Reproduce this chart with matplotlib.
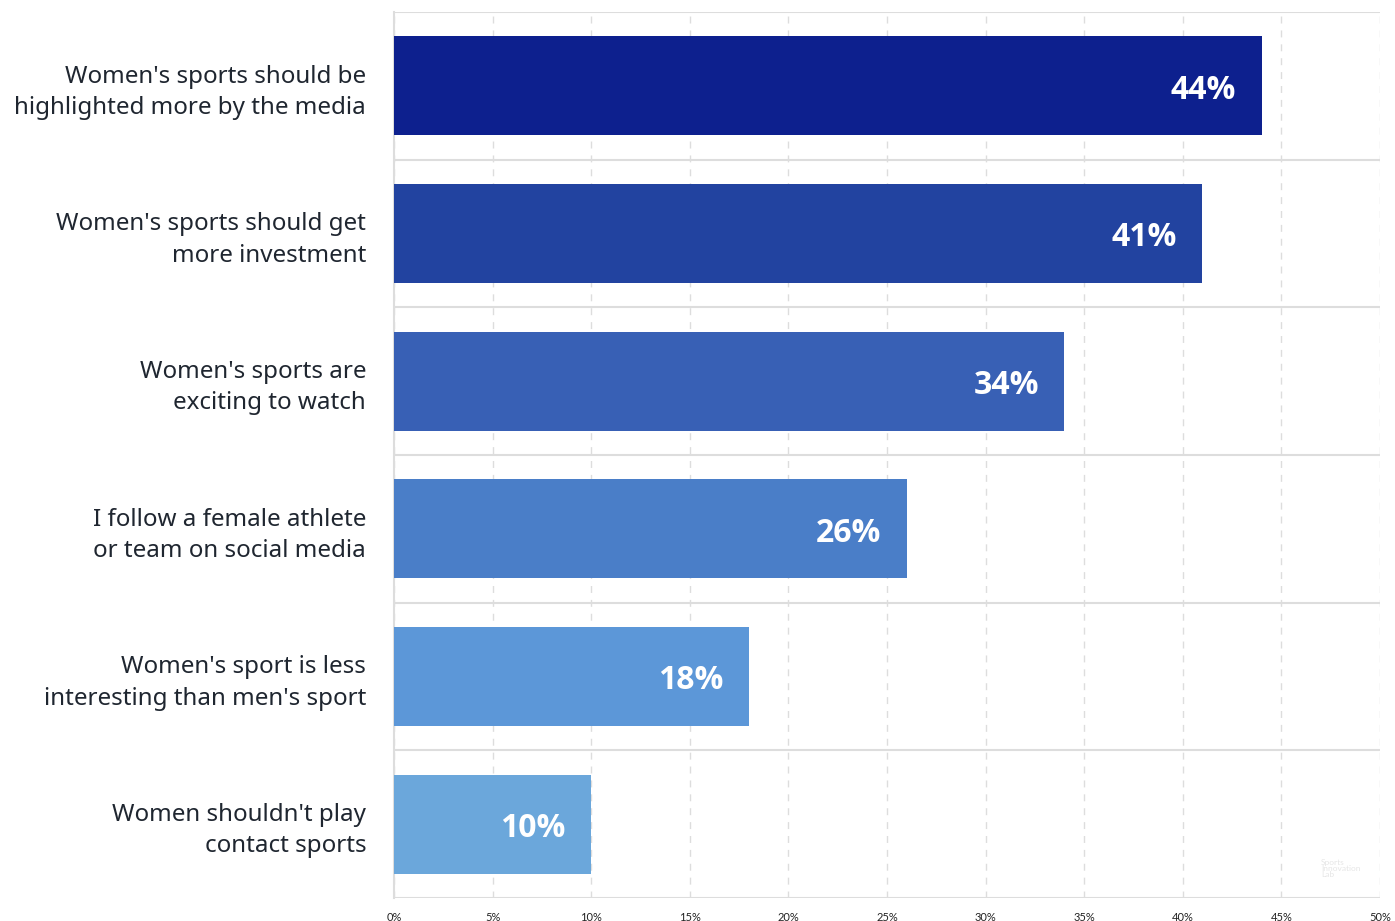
import matplotlib.pyplot as plt
from matplotlib.ticker import MultipleLocator, FuncFormatter

categories = [
    "Women's sports should be\nhighlighted more by the media",
    "Women's sports should get\nmore investment",
    "Women's sports are\nexciting to watch",
    "I follow a female athlete\nor team on social media",
    "Women's sport is less\ninteresting than men's sport",
    "Women shouldn't play\ncontact sports",
]
values = [44, 41, 34, 26, 18, 10]
colors = ["#0d208e", "#2243a0", "#3860b5", "#4a7ec8", "#5c97d8", "#6ba7db"]

plt.rcParams['font.family'] = ['Lato', 'DejaVu Sans']

fig = plt.figure(figsize=(13.95, 9.21), dpi=100)
ax = fig.add_axes([0.2824, 0.025, 0.7068, 0.962])

y = list(range(len(categories)))
ax.barh(y, values, height=0.67, color=colors, zorder=3)
for yi, v in zip(y, values):
    ax.text(v - 1.3, yi + 0.03, f"{v}%", color="white", fontsize=23, fontweight="bold",
            family=['Open Sans', 'DejaVu Sans'], ha="right", va="center", zorder=4)

ax.set_xlim(0, 50)
ax.set_ylim(len(categories) - 0.5, -0.5)
ax.set_yticks(y)
ax.set_yticklabels(categories, fontsize=17.4, color="#1f2630", linespacing=1.4,
                   family=['Noto Sans', 'DejaVu Sans'])
ax.xaxis.set_major_locator(MultipleLocator(5))
ax.xaxis.set_major_formatter(FuncFormatter(lambda x, p: f"{x:.0f}%"))
ax.tick_params(axis="x", labelsize=8, length=0, pad=10, colors="#222222")
ax.tick_params(axis="y", length=0, pad=20)

# dashed verticals and solid row separators
ax.grid(axis="x", linestyle=(0, (5, 5)), color="#dddddd", linewidth=1, zorder=0)
ax.set_yticks([i + 0.5 for i in range(-1, len(categories))], minor=True)
ax.grid(axis="y", which="minor", color="#dddddd", linewidth=1.5, zorder=1)
ax.tick_params(axis="y", which="minor", length=0)

for side in ["top", "right", "bottom"]:
    ax.spines[side].set_visible(False)
ax.spines["left"].set_color("#dddddd")
ax.spines["left"].set_linewidth(1.5)

# faint logo mark
fig.text(0.947, 0.057, "Sports\nInnovation\nLab", fontsize=6, color="#e6e6e6",
         ha="left", va="center", linespacing=0.9)

fig.savefig("out.png", dpi=100, facecolor="white")
